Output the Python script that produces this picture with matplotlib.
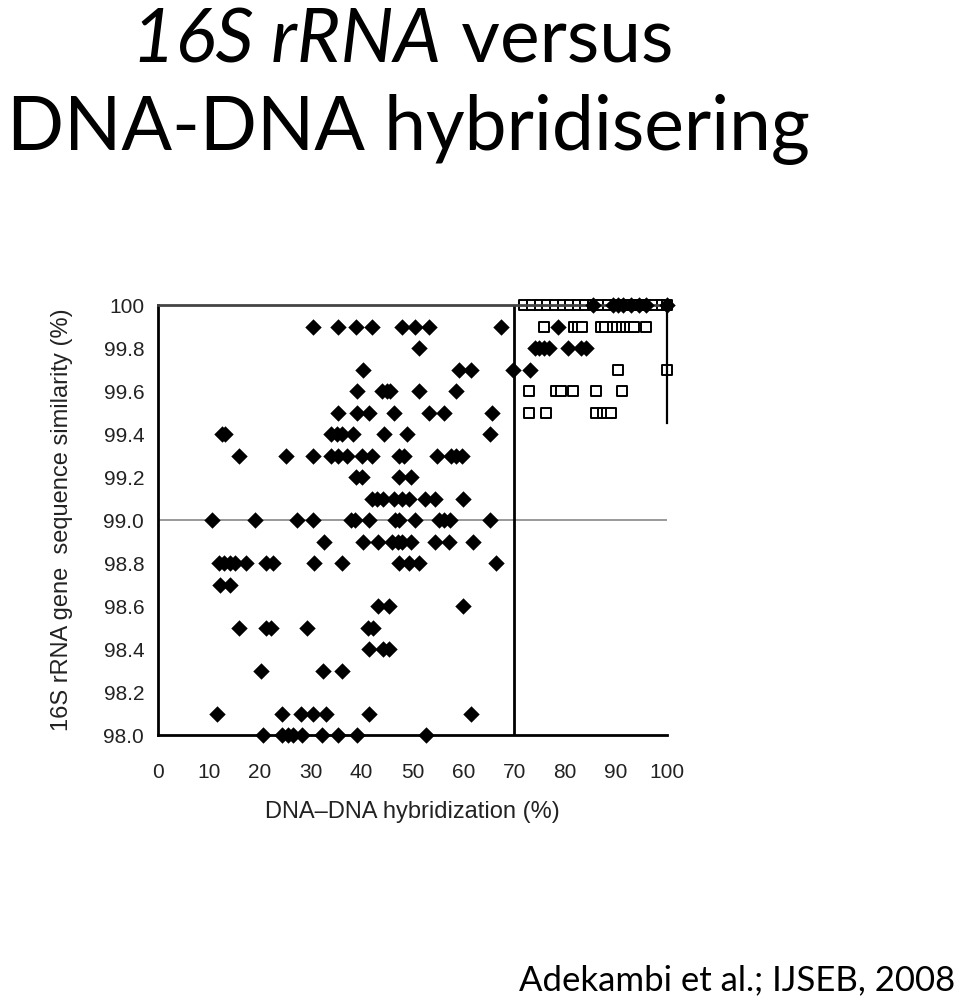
import numpy as np
import matplotlib.pyplot as plt

# 16S rRNA similarity (%) vs DNA-DNA hybridization (%)
# filled diamonds, one list of x values per similarity level
dia_levels = [100.0, 99.9, 99.8, 99.7, 99.6, 99.5, 99.4, 99.3, 99.2, 99.1,
              99.0, 98.9, 98.8, 98.7, 98.6, 98.5, 98.4, 98.3, 98.1, 98.0]
dia_x = [
    [85.5, 89.4, 90.4, 91.4, 93.0, 94.5, 96.0, 100.0],
    [30.5, 35.3, 39.0, 42.1, 48.0, 50.5, 53.2, 67.5, 78.6],
    [51.2, 74.0, 74.9, 75.9, 76.9, 80.5, 83.2, 84.1],
    [40.2, 59.1, 61.6, 69.8, 73.2],
    [39.2, 44.0, 45.0, 45.6, 51.2, 58.5],
    [35.3, 39.2, 41.5, 46.4, 53.2, 56.2, 65.6],
    [12.5, 13.2, 34.0, 35.1, 36.1, 38.4, 44.4, 48.9, 65.3],
    [16.0, 25.1, 30.5, 34.0, 35.3, 37.2, 40.0, 42.0, 47.3, 48.3, 54.8, 57.5, 58.5, 59.8],
    [39.0, 40.0, 47.4, 49.8],
    [42.0, 43.0, 44.3, 46.3, 47.9, 49.4, 52.5, 54.5, 60.0],
    [10.7, 19.1, 27.3, 30.5, 38.0, 38.8, 41.5, 46.6, 47.4, 50.6, 55.2, 56.2, 57.3, 65.3],
    [32.7, 40.2, 43.3, 45.9, 47.1, 47.9, 49.8, 54.5, 57.2, 61.9],
    [12.0, 13.0, 14.1, 15.1, 17.3, 21.2, 22.6, 30.7, 36.2, 47.4, 49.4, 51.3, 66.4],
    [12.2, 14.2],
    [43.3, 45.3, 60.0],
    [16.0, 21.2, 22.2, 29.2, 41.3, 42.3],
    [41.5, 44.3, 45.3],
    [20.3, 32.4, 36.2],
    [11.5, 24.4, 28.2, 30.5, 33.0, 41.5, 61.6],
    [20.7, 24.3, 25.5, 26.5, 28.3, 32.3, 35.4, 39.2, 52.7],
]

# open squares
sq_levels = [100.0, 99.9, 99.7, 99.6, 99.5]
sq_x = [
    [72.0, 73.5, 75.0, 76.5, 78.0, 79.5, 81.0, 82.5, 84.0, 85.5, 87.0,
     88.5, 90.0, 91.5, 93.0, 94.5, 96.0, 97.5, 99.0, 100.0],
    [75.9, 81.7, 82.5, 83.3, 87.0, 87.8, 89.4, 90.3, 91.1, 91.9, 92.7, 93.6, 96.0],
    [90.4, 100.0],
    [73.0, 78.2, 79.2, 81.5, 86.1, 91.1],
    [73.0, 76.2, 86.1, 87.5, 88.3, 89.1],
]

xticks = list(range(0, 101, 10))
yticks = [98.0, 98.2, 98.4, 98.6, 98.8, 99.0, 99.2, 99.4, 99.6, 99.8, 100.0]
ytick_labels = ['98.0', '98.2', '98.4', '98.6', '98.8', '99.0', '99.2',
                '99.4', '99.6', '99.8', '100']

dx = np.concatenate([np.array(x) for x in dia_x])
dy = np.concatenate([np.full(len(x), lv) for x, lv in zip(dia_x, dia_levels)])
sx = np.concatenate([np.array(x) for x in sq_x])
sy = np.concatenate([np.full(len(x), lv) for x, lv in zip(sq_x, sq_levels)])

fig = plt.figure(figsize=(9.6, 10.01), dpi=100)
ax = fig.add_axes([0.1646, 0.2657, 0.530, 0.4296])

ax.scatter(dx, dy, marker='D', s=70, color='black', clip_on=False, zorder=3,
           linewidths=0)
ax.scatter(sx, sy, marker='s', s=42, facecolors='white', edgecolors='black',
           linewidths=1.4, clip_on=False, zorder=2)

ax.set_xlim(0, 100)
ax.set_ylim(98.0, 100.0)
ax.axhline(99.0, color='#888888', lw=1.2, zorder=1)
ax.axvline(70, color='black', lw=2, zorder=1)

for s in ['left', 'bottom']:
    ax.spines[s].set_linewidth(2)
    ax.spines[s].set_color('black')
ax.spines['top'].set_linewidth(2)
ax.spines['top'].set_color('#444444')
ax.spines['right'].set_linewidth(1.6)
ax.spines['right'].set_bounds(99.45, 100)

ax.set_xticks(xticks)
ax.set_yticks(yticks)
ax.set_yticklabels(ytick_labels)
ax.tick_params(length=0, labelsize=15, colors='#222222',
               labelfontfamily='Liberation Sans')
ax.tick_params(axis='y', pad=10)
ax.tick_params(axis='x', pad=20)
ax.set_xlabel('DNA\u2013DNA hybridization (%)', fontsize=17, family='Liberation Sans',
              color='#222222', labelpad=14)
ax.set_ylabel('16S rRNA gene  sequence similarity (%)', fontsize=17,
              family='Liberation Sans', color='#222222', labelpad=22)

# slide title
fig.text(0.46, 0.938, '16S rRNA', fontsize=54, style='italic', family='Lato',
         ha='right', va='baseline')
fig.text(0.46, 0.938, ' versus', fontsize=54, family='Lato', ha='left',
         va='baseline')
fig.text(0.425, 0.850, 'DNA-DNA hybridisering', fontsize=54, family='Lato',
         ha='center', va='baseline')
fig.text(0.995, 0.011, 'Adekambi et al.; IJSEB, 2008', fontsize=25, family='Lato',
         ha='right', va='baseline')

fig.savefig('out.png', dpi=100)
